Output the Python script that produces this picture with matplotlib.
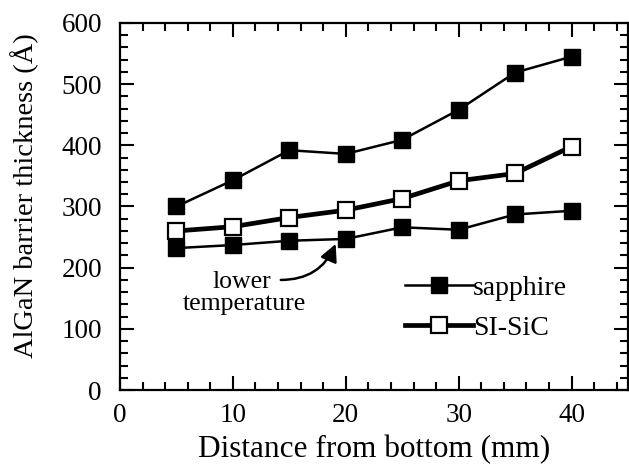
import numpy as np
import matplotlib as mpl
import matplotlib.pyplot as plt
from matplotlib.ticker import MultipleLocator

plt.rcParams['font.family'] = ['Liberation Serif', 'DejaVu Serif']

distance = [5, 10, 15, 20, 25, 30, 35, 40]
sapphire = [300, 343, 392, 386, 409, 458, 519, 545]
sapphire_low_temp = [232, 237, 244, 247, 266, 262, 287, 293]
si_sic = [260, 267, 282, 294, 313, 342, 354, 398]

fig = plt.figure(figsize=(6.29, 4.76), dpi=100)
ax = fig.add_axes([120 / 629, 86 / 476, 508 / 629, 367 / 476])

ax.plot(distance, sapphire, color="black", lw=1.8, marker="s", ms=11,
        mfc="black", mec="black", label="sapphire")
ax.plot(distance, sapphire_low_temp, color="black", lw=1.8, marker="s", ms=11,
        mfc="black", mec="black")
ax.plot(distance, si_sic, color="black", lw=3.4, marker="s", ms=11,
        mfc="white", mec="black", mew=1.6, label="SI-SiC")

ax.set_xlim(0, 45)
ax.set_ylim(0, 600)
ax.xaxis.set_major_locator(MultipleLocator(10))
ax.xaxis.set_minor_locator(MultipleLocator(2))
ax.yaxis.set_major_locator(MultipleLocator(100))
ax.yaxis.set_minor_locator(MultipleLocator(20))
ax.tick_params(which="both", direction="in", top=True, right=True, width=1.5,
               labelsize=19.5)
ax.tick_params(axis="y", pad=13)
ax.tick_params(axis="x", pad=9)
ax.tick_params(which="major", length=10)
ax.tick_params(which="minor", length=6)
for s in ax.spines.values():
    s.set_linewidth(1.6)

ax.set_xlabel("Distance from bottom (mm)", fontsize=22.5, labelpad=5)
ax.set_ylabel("AlGaN barrier thickness (Å)", fontsize=20.5)
ax.yaxis.set_label_coords(-0.16, 0.53)

ax.annotate("", xy=(19.2, 243), xytext=(14.0, 180),
            arrowprops=dict(arrowstyle="-|>", color="black", lw=1.8,
                            mutation_scale=26,
                            connectionstyle="arc3,rad=0.35"))
ax.text(10.8, 176, "lower", fontsize=18.5, ha="center", va="center")
ax.text(11.0, 140, "temperature", fontsize=18.5, ha="center", va="center")

ax.legend(loc="center left", bbox_to_anchor=(0.561, 0.223), frameon=False,
          fontsize=20, handlelength=2.45, handletextpad=0.0, labelspacing=0.5,
          borderaxespad=0, borderpad=0)

fig.savefig("out.png", dpi=100)
